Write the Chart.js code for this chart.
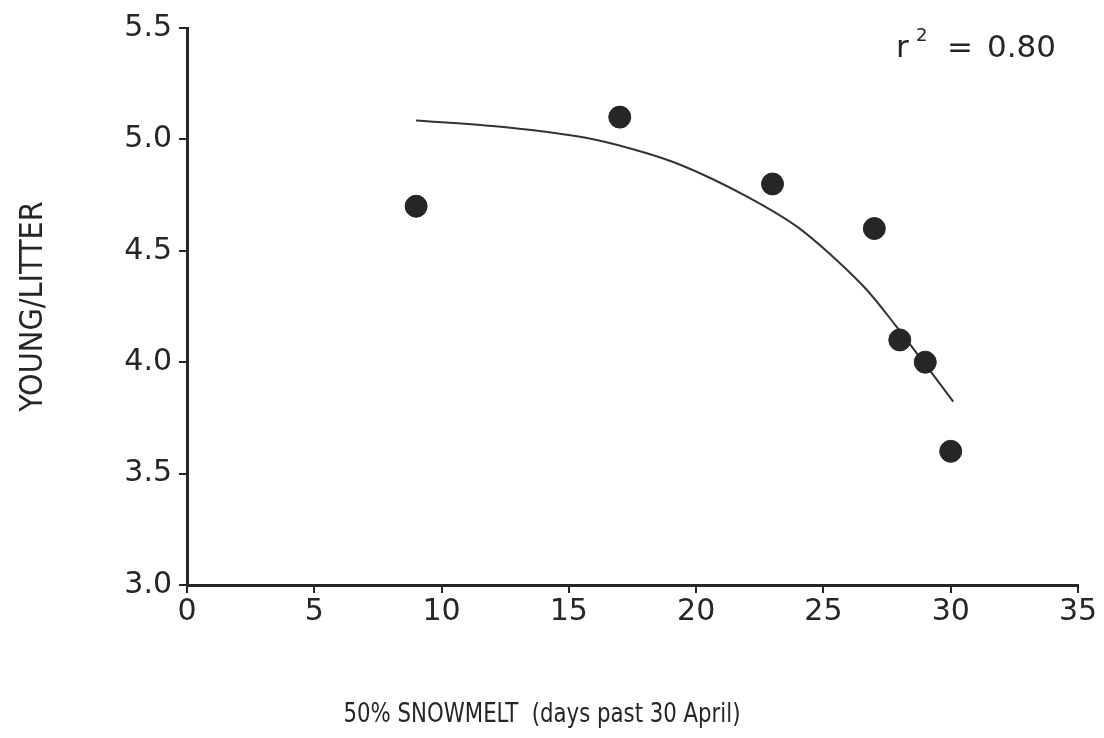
<!DOCTYPE html>
<html>
<head>
<meta charset="utf-8">
<script src="https://cdn.jsdelivr.net/npm/chart.js@4.4.1/dist/chart.umd.min.js"></script>
<style>
  html, body { margin: 0; padding: 0; background: #fff; }
  #wrap { width: 1104px; height: 738px; }
</style>
</head>
<body>
<div id="wrap"><canvas id="grafico" width="1104" height="738"></canvas></div>
<script>
// datos
const snowmeltDays = [9, 17, 23, 27, 28, 29, 30];
const youngPerLitter = [4.7, 5.1, 4.8, 4.6, 4.1, 4.0, 3.6];

// curva ajustada (leida punto a punto)
const fitDays = [9, 12, 14, 16, 18, 19.4, 22, 24, 25.5, 26.7, 27.8, 29, 30.1];
const fitYoung = [5.085, 5.06, 5.035, 5.0, 4.94, 4.885, 4.743, 4.605, 4.46, 4.325, 4.17, 3.99, 3.823];

const xTicks = [0, 5, 10, 15, 20, 25, 30, 35];
const yTicks = [3.0, 3.5, 4.0, 4.5, 5.0, 5.5];

const xTitle = "50% SNOWMELT  (days past 30 April)";
const yTitle = "YOUNG/LITTER";
const rSquared = "0.80";

const ink = "#262626";
const fuente = "'DejaVu Sans', sans-serif";
const estrecha = "'DejaVu Sans Condensed', 'DejaVu Sans', sans-serif";

// texto extra: r^2 y titulo del eje x
const textos = {
  id: "textos",
  afterDraw(chart) {
    const ctx = chart.ctx;
    const area = chart.chartArea;
    ctx.save();
    ctx.fillStyle = ink;
    ctx.textBaseline = "alphabetic";
    ctx.textAlign = "left";
    // r^2 = 0.80
    const y = area.top + 29;
    ctx.font = "31px " + fuente;
    ctx.fillText("r", area.right - 182, y);
    ctx.fillText("=", area.right - 131, y);
    ctx.fillText(rSquared, area.right - 91, y);
    ctx.font = "18px " + fuente;
    ctx.fillText("2", area.right - 162, y - 16);
    // titulo eje x (letra estrecha, se ajusta al ancho del original)
    ctx.font = "26px " + estrecha;
    const w = ctx.measureText(xTitle).width;
    const sx = Math.min(1, 397 / w);
    ctx.translate(542, 715);
    ctx.scale(sx, 1);
    ctx.textAlign = "center";
    ctx.textBaseline = "middle";
    ctx.fillText(xTitle, 0, 0);
    ctx.restore();
  }
};

new Chart(document.getElementById("grafico"), {
  type: "scatter",
  data: {
    datasets: [
      {
        label: "ajuste",
        type: "line",
        data: fitDays.map((d, i) => ({ x: d, y: fitYoung[i] })),
        borderColor: "#333",
        borderWidth: 2,
        pointRadius: 0,
        fill: false,
        cubicInterpolationMode: "monotone",
        order: 2
      },
      {
        label: "datos",
        data: snowmeltDays.map((d, i) => ({ x: d, y: youngPerLitter[i] })),
        backgroundColor: ink,
        borderColor: ink,
        pointRadius: 11,
        pointHoverRadius: 11,
        order: 1
      }
    ]
  },
  options: {
    responsive: false,
    animation: false,
    layout: { padding: { top: 28, right: 26, left: 0, bottom: 0 } },
    plugins: { legend: { display: false }, tooltip: { enabled: false } },
    scales: {
      x: {
        type: "linear",
        min: 0,
        max: 35,
        afterBuildTicks: s => { s.ticks = xTicks.map(v => ({ value: v })); },
        afterFit: s => { s.height = 738 - 585; },
        border: { display: true, color: ink, width: 3 },
        grid: { drawOnChartArea: false, drawTicks: true, tickLength: 8, color: ink, lineWidth: 2 },
        ticks: { color: ink, padding: 1, font: { family: fuente, size: 30 }, maxRotation: 0 }
      },
      y: {
        type: "linear",
        min: 3.0,
        max: 5.5,
        afterBuildTicks: s => { s.ticks = yTicks.map(v => ({ value: v })); },
        afterFit: s => { s.width = 187; },
        border: { display: true, color: ink, width: 3 },
        grid: { drawOnChartArea: false, drawTicks: true, tickLength: 8, color: ink, lineWidth: 2 },
        ticks: {
          color: ink,
          padding: 7,
          font: { family: fuente, size: 30 },
          callback: v => Number(v).toFixed(1)
        },
        title: {
          display: true,
          text: yTitle,
          color: ink,
          padding: { top: 14, bottom: 0 },
          font: { family: estrecha, size: 32 }
        }
      }
    }
  },
  plugins: [textos]
});
</script>
</body>
</html>
